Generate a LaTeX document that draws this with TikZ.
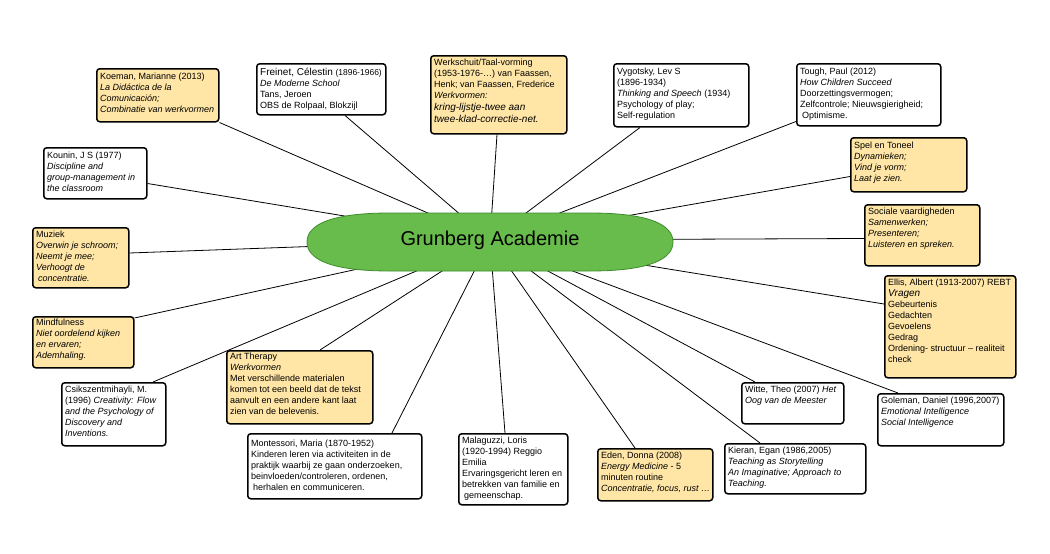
\documentclass[tikz,border=0pt]{standalone}
\usepackage{fontspec}
\setmainfont{Liberation Sans}
\usetikzlibrary{calc,backgrounds}
\definecolor{boxyellow}{HTML}{FFE6A6}
\definecolor{hubgreen}{HTML}{68BC4B}
\definecolor{hubedge}{HTML}{3F8C2C}
\tikzset{
  card/.style={draw=black, line width=1.5pt, rounded corners=3pt, inner sep=0pt, anchor=north west},
  yel/.style={card, fill=boxyellow},
  wht/.style={card, fill=white},
  cardtext/.style={anchor=north west, inner sep=0pt, align=left, font=\fontsize{9}{11}\selectfont},
  link/.style={draw=black, line width=0.8pt},
  hub/.style={fill=hubgreen, draw=hubedge, line width=0.8pt},
}
% style, name, x, y, width, height, text top offset, text
\newcommand{\mkcard}[8]{%
  \node[#1, minimum width=#5pt, minimum height=#6pt] (#2) at (#3,#4) {};
  \node[cardtext] (#2T) at ($(#2.north west)+(4pt,-#7pt)$) {#8};
}
\begin{document}
\begin{tikzpicture}[x=1pt,y=-1pt]
\useasboundingbox (0,0) rectangle (1050,554);

\node[font=\fontsize{20}{24}\selectfont] (c) at (490,240) {Grunberg Academie};

\mkcard{yel}{koe}{96}{68}{122}{53}{4.5}{Koeman, Marianne (2013)\\\textit{La Didáctica de la}\\\textit{Comunicación;}\\\textit{Combinatie van werkvormen}}
\mkcard{wht}{kou}{43}{147}{103}{51}{4.5}{Kounin, J S (1977)\\\textit{Discipline and}\\\textit{group-management in}\\\textit{the classroom}}
\mkcard{wht}{fre}{256}{63}{129}{51}{4.5}{{\fontsize{10}{11}\selectfont Freinet, Célestin} {\fontsize{8.5}{11}\selectfont(1896-1966)}\\\textit{De Moderne School}\\Tans, Jeroen\\OBS de Rolpaal, Blokzijl}
\mkcard{yel}{wer}{430}{55}{136}{78}{3.5}{Werkschuit/Taal-vorming\\(1953-1976-…) van Faassen,\\Henk; van Faassen, Frederice\\\textit{Werkvormen:}\\[1pt]\textit{\fontsize{10}{12}\selectfont kring-lijstje-twee aan}\\[1pt]\textit{\fontsize{10}{12}\selectfont twee-klad-correctie-net.}}
\mkcard{wht}{vyg}{613}{63}{135}{63}{4.5}{Vygotsky, Lev S\\(1896-1934)\\\textit{Thinking and Speech} (1934)\\Psychology of play;\\Self-regulation}
\mkcard{wht}{tou}{796}{63}{144}{62}{4.5}{Tough, Paul (2012)\\\textit{How Children Succeed}\\Doorzettingsvermogen;\\Zelfcontrole; Nieuwsgierigheid;\\\hspace{2pt}Optimisme.}
\mkcard{yel}{spe}{850}{137}{116}{54}{4.5}{Spel en Toneel\\\textit{Dynamieken;}\\\textit{Vind je vorm;}\\\textit{Laat je zien.}}
\mkcard{yel}{soc}{864}{204}{115}{61}{4}{Sociale vaardigheden\\\textit{Samenwerken;}\\\textit{Presenteren;}\\\textit{Luisteren en spreken.}}
\mkcard{yel}{ell}{884}{275}{131}{102}{4}{Ellis, Albert (1913-2007) REBT\\\textit{\fontsize{10}{11}\selectfont Vragen}\\Gebeurtenis\\Gedachten\\Gevoelens\\Gedrag\\Ordening- structuur – realiteit\\check}
\mkcard{yel}{muz}{32}{227}{96}{60}{4}{Muziek\\\textit{Overwin je schroom;}\\\textit{Neemt je mee;}\\\textit{Verhoogt de}\\\textit{\hspace{2pt}concentratie.}}
\mkcard{yel}{min}{32}{316}{101}{51}{2.5}{Mindfulness\\\textit{Niet oordelend kijken}\\\textit{en ervaren;}\\\textit{Ademhaling.}}
\mkcard{wht}{csi}{61}{382}{104}{63}{4}{Csikszentmihayli, M.\\(1996) \textit{Creativity: Flow}\\\textit{and the Psychology of}\\\textit{Discovery and}\\\textit{Inventions.}}
\mkcard{yel}{art}{226}{350}{146}{73}{3}{Art Therapy\\\textit{Werkvormen}\\Met verschillende materialen\\komen tot een beeld dat de tekst\\aanvult en een andere kant laat\\zien van de belevenis.}
\mkcard{wht}{mon}{247}{433}{174}{65}{7}{Montessori, Maria (1870-1952)\\Kinderen leren via activiteiten in de\\praktijk waarbij ze gaan onderzoeken,\\beinvloeden/controleren, ordenen,\\\hspace{2pt}herhalen en communiceren.}
\mkcard{wht}{mal}{458}{433}{109}{71}{4}{Malaguzzi, Loris\\(1920-1994) Reggio\\Emilia\\Ervaringsgericht leren en\\betrekken van familie en\\\hspace{2pt}gemeenschap.}
\mkcard{yel}{ede}{597}{448}{115}{52}{4}{Eden, Donna (2008)\\\textit{Energy Medicine} - 5\\minuten routine\\\textit{Concentratie, focus, rust …}}
\mkcard{wht}{kie}{724}{443}{141}{50}{4}{Kieran, Egan (1986,2005)\\\textit{Teaching as Storytelling}\\\textit{An Imaginative; Approach to}\\\textit{Teaching.}}
\mkcard{wht}{wit}{741}{382}{102}{41}{4}{Witte, Theo (2007) \textit{Het}\\\textit{Oog van de Meester}}
\mkcard{wht}{gol}{877}{393}{126}{52}{4}{Goleman, Daniel (1996,2007)\\\textit{Emotional Intelligence}\\\textit{Social Intelligence}}

\begin{pgfonlayer}{background}
  \fill[white] (0,0) rectangle (1050,554);
  \draw[link] (c.center) -- (koe.south east);
  \draw[link] (c.center) -- ($(kou.south east)+(0,16pt)$);
  \draw[link] (c.center) -- ($(fre.south west)+(89pt,0)$);
  \draw[link] (c.center) -- ($(wer.south west)+(67pt,0)$);
  \draw[link] (c.center) -- ($(vyg.south west)+(27pt,0)$);
  \draw[link] (c.center) -- ($(tou.south west)+(0,5pt)$);
  \draw[link] (c.center) -- ($(spe.south west)+(0,16pt)$);
  \draw[link] (c.center) -- ($(soc.south west)+(0,28pt)$);
  \draw[link] (c.center) -- ($(ell.north west)+(0,-29pt)$);
  \draw[link] (c.center) -- ($(gol.north west)+(21pt,0)$);
  \draw[link] (c.center) -- ($(wit.north west)+(14pt,0)$);
  \draw[link] (c.center) -- ($(kie.north west)+(36pt,0)$);
  \draw[link] (c.center) -- ($(ede.north west)+(38pt,0)$);
  \draw[link] (c.center) -- ($(mal.north west)+(47pt,0)$);
  \draw[link] (c.center) -- ($(mon.north west)+(145pt,0)$);
  \draw[link] (c.center) -- ($(art.north west)+(94pt,0)$);
  \draw[link] (c.center) -- ($(csi.north west)+(92pt,0)$);
  \draw[link] (c.center) -- ($(min.north east)+(0,-2pt)$);
  \draw[link] (c.center) -- ($(muz.north east)+(0,-26pt)$);
  \draw[hub] (390,213) -- (590,213)
    .. controls (650,213) and (673,225) .. (673,242)
    .. controls (673,259) and (650,271) .. (590,271)
    -- (390,271)
    .. controls (330,271) and (307,259) .. (307,242)
    .. controls (307,225) and (330,213) .. (390,213) -- cycle;
\end{pgfonlayer}
\end{tikzpicture}
\end{document}
